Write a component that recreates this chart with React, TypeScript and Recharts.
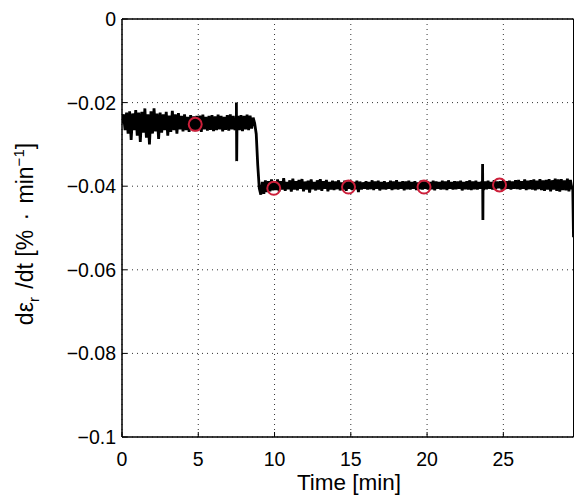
import React from 'react';
import { ComposedChart, Line, Scatter, XAxis, YAxis, CartesianGrid, Customized, ReferenceArea } from 'recharts';

// Plateau before the step, sampled every 0.1 min from t = 0.0 to 8.7
const plateau1Start = 0.0;
const plateau1 = [
  -0.0250, -0.0228, -0.0266, -0.0224, -0.0274, -0.0221, -0.0289, -0.0226, -0.0266, -0.0218,
  -0.0279, -0.0224, -0.0294, -0.0222, -0.0272, -0.0214, -0.0284, -0.0228, -0.0300, -0.0221,
  -0.0274, -0.0214, -0.0269, -0.0226, -0.0287, -0.0224, -0.0272, -0.0228, -0.0266, -0.0222,
  -0.0279, -0.0231, -0.0270, -0.0220, -0.0266, -0.0228, -0.0274, -0.0225, -0.0264, -0.0232,
  -0.0269, -0.0228, -0.0266, -0.0234, -0.0270, -0.0230, -0.0265, -0.0233, -0.0268, -0.0232,
  -0.0266, -0.0231, -0.0270, -0.0229, -0.0264, -0.0234, -0.0267, -0.0232, -0.0265, -0.0230,
  -0.0268, -0.0233, -0.0266, -0.0229, -0.0264, -0.0232, -0.0269, -0.0234, -0.0265, -0.0230,
  -0.0267, -0.0228, -0.0264, -0.0232, -0.0266, -0.0234, -0.0232, -0.0266, -0.0230, -0.0268,
  -0.0232, -0.0264, -0.0229, -0.0266, -0.0231, -0.0262, -0.0236, -0.0250,
];

// Step and second plateau, sampled every 0.1 min from t = 8.8 to 29.5
const plateau2Start = 8.8;
const plateau2 = [
  -0.0275, -0.0350, -0.0405, -0.0420, -0.0390, -0.0418, -0.0386, -0.0414, -0.0388, -0.0412, -0.0384, -0.0410,
  -0.0389, -0.0409, -0.0384, -0.0412, -0.0388, -0.0408, -0.0381, -0.0411, -0.0390, -0.0407,
  -0.0386, -0.0413, -0.0382, -0.0408, -0.0388, -0.0410, -0.0385, -0.0406, -0.0383, -0.0412,
  -0.0389, -0.0408, -0.0387, -0.0415, -0.0384, -0.0407, -0.0390, -0.0410, -0.0386, -0.0408,
  -0.0383, -0.0411, -0.0388, -0.0406, -0.0385, -0.0412, -0.0390, -0.0408, -0.0387, -0.0409,
  -0.0389, -0.0407, -0.0386, -0.0410, -0.0391, -0.0408, -0.0387, -0.0411, -0.0389, -0.0406,
  -0.0388, -0.0409, -0.0390, -0.0407, -0.0387, -0.0414, -0.0389, -0.0408, -0.0391, -0.0406,
  -0.0388, -0.0408, -0.0390, -0.0407, -0.0386, -0.0409, -0.0389, -0.0406, -0.0387, -0.0410,
  -0.0390, -0.0407, -0.0388, -0.0408, -0.0391, -0.0406, -0.0387, -0.0409, -0.0389, -0.0407,
  -0.0386, -0.0408, -0.0390, -0.0406, -0.0388, -0.0410, -0.0389, -0.0407, -0.0387, -0.0408,
  -0.0390, -0.0406, -0.0388, -0.0409, -0.0391, -0.0407, -0.0387, -0.0408, -0.0389, -0.0406,
  -0.0388, -0.0408, -0.0390, -0.0407, -0.0387, -0.0410, -0.0389, -0.0406, -0.0390, -0.0408,
  -0.0387, -0.0407, -0.0389, -0.0409, -0.0386, -0.0406, -0.0390, -0.0408, -0.0388, -0.0407,
  -0.0389, -0.0406, -0.0387, -0.0410, -0.0390, -0.0407, -0.0388, -0.0408, -0.0386, -0.0409,
  -0.0389, -0.0407, -0.0387, -0.0408, -0.0390, -0.0406, -0.0388, -0.0409, -0.0389, -0.0407,
  -0.0387, -0.0406, -0.0390, -0.0408, -0.0386, -0.0407, -0.0389, -0.0405, -0.0388, -0.0408,
  -0.0386, -0.0407, -0.0388, -0.0406, -0.0387, -0.0408, -0.0389, -0.0406, -0.0386, -0.0407,
  -0.0385, -0.0408, -0.0388, -0.0406, -0.0384, -0.0409, -0.0387, -0.0407, -0.0386, -0.0408,
  -0.0384, -0.0410, -0.0387, -0.0407, -0.0383, -0.0409, -0.0386, -0.0411, -0.0385, -0.0408,
  -0.0383, -0.0412, -0.0386, -0.0408, -0.0382, -0.0411, -0.0384, -0.0413, -0.0383, -0.0409,
  -0.0386, -0.0410, -0.0382, -0.0412, -0.0385, -0.0407,
];

// Isolated spikes and the final drop: [time (min), rate]
const spikes: [number, number][] = [
  [7.49, -0.0250], [7.5, -0.0200], [7.52, -0.0340], [7.54, -0.0250],
  [23.63, -0.0398], [23.64, -0.0347], [23.66, -0.0481], [23.67, -0.0398],
  [29.55, -0.0400], [29.6, -0.0522],
];

// Red circle markers: [time (min), rate]
const markerPoints: [number, number][] = [
  [4.8, -0.0252], [9.95, -0.0405], [14.85, -0.0402], [19.8, -0.0402], [24.75, -0.0397],
];

const xTicks = [0, 5, 10, 15, 20, 25];
const yTicks = [0, -0.02, -0.04, -0.06, -0.08, -0.1];
const xDomain: [number, number] = [0, 29.6];
const yDomain: [number, number] = [-0.1, 0];

const signal = [
  ...plateau1.map((v, i) => ({ t: +(plateau1Start + i * 0.1).toFixed(2), v })),
  ...plateau2.map((v, i) => ({ t: +(plateau2Start + i * 0.1).toFixed(2), v })),
  ...spikes.map(([t, v]) => ({ t, v })),
].sort((a, b) => a.t - b.t);

const markers = markerPoints.map(([t, v]) => ({ t, v }));

const FONT = '"Liberation Sans", Arial, Helvetica, sans-serif';
const fmtY = (v: number) => (v === 0 ? '0' : '\u2212' + String(Math.abs(v)));

const RedCircle = (p: any) => (
  <circle cx={p.cx} cy={p.cy} r={6.5} fill="none" stroke="#cc1f3a" strokeWidth={2} />
);

const YLabel = () => (
  <text
    x={33}
    y={234}
    transform="rotate(-90, 33, 234)"
    textAnchor="middle"
    fontFamily={FONT}
    fontSize={23}
    fill="#000"
  >
    <tspan>dε</tspan>
    <tspan dy={6} fontSize={15}>r</tspan>
    <tspan dy={-6} dx={2}> /dt [% </tspan>
    <tspan dx={3}>·</tspan>
    <tspan dx={3}> min</tspan>
    <tspan dy={-9} fontSize={15}>−1</tspan>
    <tspan dy={9}>]</tspan>
  </text>
);

const XLabel = () => (
  <text x={349} y={490} textAnchor="middle" fontFamily={FONT} fontSize={22.5} fill="#000">
    Time [min]
  </text>
);

export default function App() {
  const tickStyle = { fill: '#000', fontSize: 19.5, fontFamily: FONT };
  return (
    <div style={{ position: 'absolute', left: 0, top: 0, width: 576, height: 501, background: '#fff' }}>
      <ComposedChart width={576} height={501} margin={{ top: 18, right: 1.5, left: 0, bottom: 0 }}>
        <CartesianGrid
          xAxisId="bottom"
          yAxisId="left"
          stroke="#333"
          strokeDasharray="1 4"
          strokeWidth={1}
        />
        <XAxis
          xAxisId="bottom"
          dataKey="t"
          type="number"
          domain={xDomain}
          ticks={xTicks}
          allowDataOverflow
          height={64}
          axisLine={{ stroke: '#000' }}
          tickLine={{ stroke: '#000' }}
          tickSize={-5}
          tickMargin={20}
          tick={tickStyle}
        />
        <XAxis
          xAxisId="top"
          orientation="top"
          type="number"
          domain={xDomain}
          ticks={xTicks}
          allowDataOverflow
          height={1}
          axisLine={{ stroke: '#000' }}
          tickLine={{ stroke: '#000' }}
          tickSize={-5}
          tick={false}
        />
        <YAxis
          yAxisId="left"
          type="number"
          domain={yDomain}
          ticks={yTicks}
          allowDataOverflow
          width={122}
          axisLine={{ stroke: '#000' }}
          tickLine={{ stroke: '#000' }}
          tickSize={-5}
          tickMargin={11}
          tickFormatter={fmtY}
          tick={tickStyle}
        />
        <YAxis
          yAxisId="right"
          orientation="right"
          type="number"
          domain={yDomain}
          ticks={yTicks}
          allowDataOverflow
          width={1}
          axisLine={{ stroke: '#000' }}
          tickLine={{ stroke: '#000' }}
          tickSize={-5}
          tick={false}
        />
        <ReferenceArea
          xAxisId="bottom"
          yAxisId="left"
          x1={xDomain[0]}
          x2={xDomain[1]}
          y1={yDomain[0]}
          y2={yDomain[1]}
          fill="none"
          fillOpacity={0}
          stroke="#000"
          strokeWidth={1}
        />
        <Line
          xAxisId="bottom"
          yAxisId="left"
          data={signal}
          dataKey="v"
          type="linear"
          stroke="#000"
          strokeWidth={2.8}
          dot={false}
          activeDot={false}
          isAnimationActive={false}
        />
        <Scatter
          xAxisId="bottom"
          yAxisId="left"
          data={markers}
          dataKey="v"
          shape={RedCircle}
          isAnimationActive={false}
        />
        <Customized component={YLabel} />
        <Customized component={XLabel} />
      </ComposedChart>
    </div>
  );
}
